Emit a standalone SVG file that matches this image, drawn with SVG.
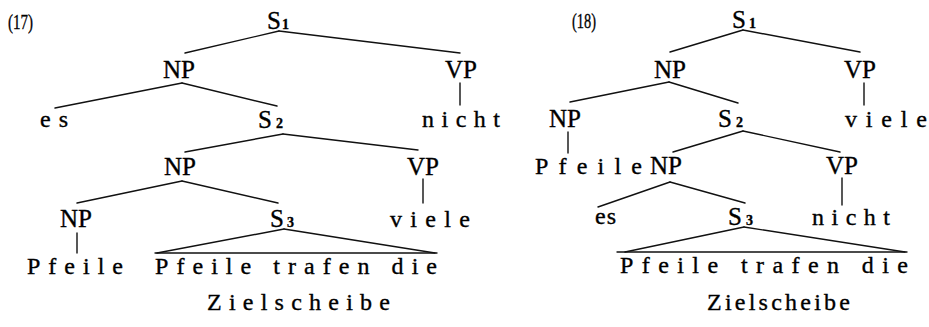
<svg xmlns="http://www.w3.org/2000/svg" width="929" height="327" viewBox="0 0 929 327">
<style>
text{font-family:"Liberation Serif","Times New Roman",serif;fill:#000;stroke:#000;stroke-width:0.35;font-size:25px}
.cat{text-anchor:middle}
.num{font-size:22px}
.sub{font-size:14px;font-weight:bold}
.w{font-size:24px}
#connectors line{stroke:#111;stroke-width:1.4;stroke-linecap:round}
</style>
<rect width="929" height="327" fill="#fff"/>
<g id="connectors">
<line x1="279" y1="31" x2="185" y2="53"/>
<line x1="279" y1="31" x2="460" y2="53"/>
<line x1="182" y1="83" x2="55" y2="108"/>
<line x1="182" y1="83" x2="277" y2="106"/>
<line x1="460" y1="83" x2="460" y2="105"/>
<line x1="283" y1="134" x2="185" y2="152"/>
<line x1="283" y1="134" x2="418" y2="150"/>
<line x1="182" y1="181" x2="77" y2="203"/>
<line x1="182" y1="181" x2="278" y2="203"/>
<line x1="423" y1="179" x2="423" y2="203"/>
<line x1="77" y1="233" x2="77" y2="253"/>
<line x1="284" y1="229" x2="157" y2="253"/>
<line x1="284" y1="229" x2="435" y2="253"/>
<line x1="155" y1="253" x2="437" y2="253"/>
<line x1="743" y1="30" x2="670" y2="52"/>
<line x1="743" y1="30" x2="860" y2="52"/>
<line x1="669" y1="82" x2="570" y2="102"/>
<line x1="669" y1="82" x2="738" y2="103"/>
<line x1="864" y1="83" x2="864" y2="105"/>
<line x1="568" y1="132" x2="568" y2="153"/>
<line x1="743" y1="131" x2="673" y2="152"/>
<line x1="743" y1="131" x2="840" y2="152"/>
<line x1="670" y1="182" x2="598" y2="207"/>
<line x1="670" y1="182" x2="745" y2="203"/>
<line x1="842" y1="178" x2="842" y2="205"/>
<line x1="744" y1="227" x2="625" y2="252"/>
<line x1="744" y1="227" x2="905" y2="252"/>
<line x1="617" y1="252" x2="907" y2="252"/>
</g>
<g id="label17"><text class="num" x="8" y="29" textLength="25" lengthAdjust="spacingAndGlyphs">(17)</text></g>
<g id="L_S1"><text x="267" y="29">S<tspan class="sub" dx="1">1</tspan></text></g>
<g id="L_NP1"><text class="cat" x="179" y="78">NP</text></g>
<g id="L_VP1"><text class="cat" x="461" y="78">VP</text></g>
<g id="L_es"><text class="w" x="40" y="127" textLength="28" lengthAdjust="spacing">es</text></g>
<g id="L_S2"><text x="258" y="128">S<tspan class="sub" dx="4">2</tspan></text></g>
<g id="L_nicht"><text class="w" x="422" y="127" textLength="78" lengthAdjust="spacing">nicht</text></g>
<g id="L_NP2"><text class="cat" x="180" y="175">NP</text></g>
<g id="L_VP2"><text class="cat" x="423" y="175">VP</text></g>
<g id="L_NP3"><text class="cat" x="76" y="227">NP</text></g>
<g id="L_S3"><text x="270" y="227">S<tspan class="sub" dx="3">3</tspan></text></g>
<g id="L_viele"><text class="w" x="390" y="227" textLength="80" lengthAdjust="spacing">viele</text></g>
<g id="L_Pfeile"><text class="w" x="27" y="274" textLength="96" lengthAdjust="spacing">Pfeile</text></g>
<g id="L_sent"><text class="w" x="155" y="274" textLength="282" lengthAdjust="spacing">Pfeile trafen die</text></g>
<g id="L_ziel"><text class="w" x="207" y="310" textLength="183" lengthAdjust="spacing">Zielscheibe</text></g>
<g id="label18"><text class="num" x="572" y="28" textLength="24" lengthAdjust="spacingAndGlyphs">(18)</text></g>
<g id="R_S1"><text x="732" y="28">S<tspan class="sub" dx="3">1</tspan></text></g>
<g id="R_NP1"><text class="cat" x="670" y="78">NP</text></g>
<g id="R_VP1"><text class="cat" x="860" y="78">VP</text></g>
<g id="R_NPa"><text class="cat" x="565" y="127">NP</text></g>
<g id="R_S2"><text x="718" y="127">S<tspan class="sub" dx="4">2</tspan></text></g>
<g id="R_viele"><text class="w" x="845" y="127" textLength="82" lengthAdjust="spacing">viele</text></g>
<g id="R_Pfeile"><text class="w" x="535" y="174" textLength="107" lengthAdjust="spacing">Pfeile</text></g>
<g id="R_NP2"><text class="cat" x="666" y="174">NP</text></g>
<g id="R_VP2"><text class="cat" x="842" y="174">VP</text></g>
<g id="R_es"><text class="w" x="595" y="224" textLength="21" lengthAdjust="spacing">es</text></g>
<g id="R_S3"><text x="728" y="225">S<tspan class="sub" dx="4">3</tspan></text></g>
<g id="R_nicht"><text class="w" x="812" y="225" textLength="78" lengthAdjust="spacing">nicht</text></g>
<g id="R_sent"><text class="w" x="620" y="273" textLength="288" lengthAdjust="spacing">Pfeile trafen die</text></g>
<g id="R_ziel"><text class="w" x="707" y="310" textLength="143" lengthAdjust="spacing">Zielscheibe</text></g>
</svg>
